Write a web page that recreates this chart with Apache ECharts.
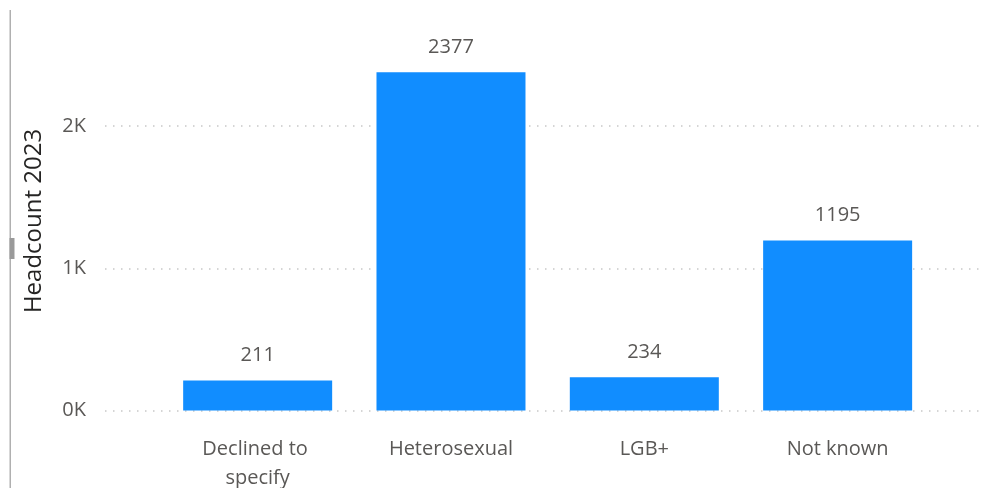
<!DOCTYPE html>
<html>
<head>
<meta charset="utf-8">
<script src="https://cdn.jsdelivr.net/npm/echarts@6/dist/echarts.min.js"></script>
<style>
html,body{margin:0;padding:0;background:#fff;}
#chart{width:989px;height:488px;}
</style>
</head>
<body>
<div id="chart"></div>
<script>
const categories = ['Declined to specify', 'Heterosexual', 'LGB+', 'Not known'];
const headcount2023 = [211, 2377, 234, 1195];
const yTicks = [0, 1000, 2000];
const axisTitle = 'Headcount 2023';

const FONT = "'Segoe UI', 'Open Sans', sans-serif";
const chart = echarts.init(document.getElementById('chart'), null, {renderer: 'canvas'});
const yMin = yTicks[0], yMax = yTicks[yTicks.length - 1], yStep = yTicks[1] - yTicks[0];

chart.setOption({
  animation: false,
  backgroundColor: '#fff',
  grid: [
    {left: 105, right: 4, top: 126, bottom: 77.5, containLabel: false, outerBoundsMode: 'none'},
    {left: 161, right: 54.7, top: 126, bottom: 77.5, containLabel: false, outerBoundsMode: 'none'}
  ],
  xAxis: [
    {gridIndex: 0, type: 'value', show: false},
    {
      gridIndex: 1, type: 'category', data: categories,
      axisLine: {show: false}, axisTick: {show: false},
      axisLabel: {
        color: '#5A5856', fontFamily: FONT, fontSize: 20, margin: 24,
        lineHeight: 29, width: 130, overflow: 'break', interval: 0
      }
    }
  ],
  yAxis: [
    {
      gridIndex: 0, type: 'value', min: yMin, max: yMax, interval: yStep,
      axisLine: {show: false}, axisTick: {show: false},
      axisLabel: {
        color: '#5A5856', fontFamily: FONT, fontSize: 20, margin: 19,
        formatter: v => (v / 1000) + 'K'
      },
      splitLine: {show: true, lineStyle: {color: '#C8C8C8', width: 1.5, type: [1.5, 6.5]}}
    },
    {
      gridIndex: 1, type: 'value', min: yMin, max: yMax, interval: yStep, show: false,
      splitLine: {show: false}
    }
  ],
  series: [{
    type: 'bar', xAxisIndex: 1, yAxisIndex: 1, data: headcount2023,
    barWidth: 149, clip: false,
    itemStyle: {color: '#118DFF'},
    label: {
      show: true, position: 'top', distance: 15,
      color: '#5A5856', fontFamily: FONT, fontSize: 20
    }
  }],
  graphic: [
    {type: 'rect', shape: {x: 9.5, y: 10, width: 1.5, height: 478}, style: {fill: '#B0B0B0'}},
    {type: 'rect', shape: {x: 9.5, y: 238, width: 5, height: 21}, style: {fill: '#9A9A9A'}},
    {
      type: 'text', x: 34, y: 221, rotation: Math.PI / 2,
      style: {
        text: axisTitle, fill: '#252423', font: "24px 'Segoe UI', 'Open Sans', sans-serif",
        align: 'center', verticalAlign: 'middle'
      }
    }
  ]
});
</script>
</body>
</html>
